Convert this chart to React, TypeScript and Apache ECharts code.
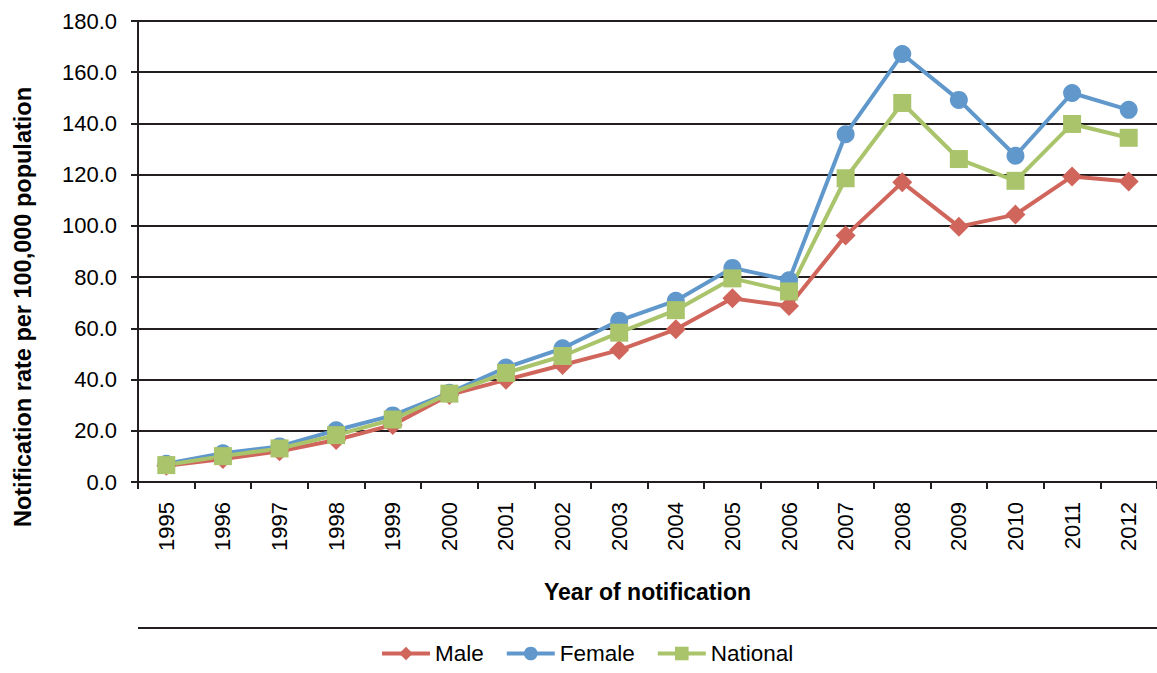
import React, { useEffect, useRef } from "react";
import * as echarts from "echarts";

const years = ["1995","1996","1997","1998","1999","2000","2001","2002","2003","2004","2005","2006","2007","2008","2009","2010","2011","2012"];
const male = [6.3, 9.0, 12.0, 16.4, 22.3, 34.0, 39.9, 45.7, 51.5, 59.6, 71.7, 68.7, 96.2, 117.0, 99.7, 104.4, 119.3, 117.3];
const female = [7.1, 11.2, 13.9, 20.2, 26.0, 34.8, 44.7, 52.2, 63.0, 70.8, 83.6, 78.8, 135.8, 167.1, 149.2, 127.4, 151.9, 145.3];
const national = [6.6, 10.1, 13.1, 18.3, 24.4, 34.5, 42.6, 49.2, 58.3, 67.1, 79.5, 74.4, 118.6, 148.0, 126.1, 117.6, 139.8, 134.4];

const yMin = 0;
const yMax = 180;
const yStep = 20;

const FONT = "'Liberation Sans', Arial, sans-serif";
const DARK = "#231f20";

export default function App() {
  const ref = useRef<HTMLDivElement>(null);
  useEffect(() => {
    if (!ref.current) return;
    const chart = echarts.init(ref.current, undefined, { renderer: "svg" });
    const mk = (name: string, data: number[], color: string, symbol: string, size: number) => ({
      name,
      type: "line",
      data,
      symbol,
      symbolSize: size,
      color,
      lineStyle: { width: 4, color },
      itemStyle: { color },
    });
    chart.setOption({
      animation: false,
      textStyle: { fontFamily: FONT },
      grid: { left: 138, top: 21, right: -5, bottom: 673 - 482, containLabel: false },
      legend: {
        left: 380,
        top: 642,
        padding: 0,
        itemWidth: 48,
        itemHeight: 17,
        itemGap: 21,
        lineStyle: { width: 4 },
        textStyle: { fontSize: 22.5, color: "#000", fontFamily: FONT },
        data: ["Male", "Female", "National"],
      },
      xAxis: {
        type: "category",
        data: years,
        boundaryGap: true,
        name: "Year of notification",
        nameLocation: "middle",
        nameGap: 98,
        nameTextStyle: { fontSize: 23, fontWeight: "bold", color: "#000", fontFamily: FONT },
        axisLine: { lineStyle: { color: DARK, width: 2 } },
        axisTick: { show: true, length: 7, lineStyle: { color: DARK, width: 2 } },
        axisLabel: { rotate: 90, fontSize: 22, color: "#000", margin: 20, fontFamily: FONT },
      },
      yAxis: {
        type: "value",
        min: yMin,
        max: yMax,
        interval: yStep,
        axisLine: { show: true, lineStyle: { color: DARK, width: 2 } },
        axisTick: { show: true, length: 7, lineStyle: { color: DARK, width: 2 } },
        axisLabel: {
          fontSize: 22,
          color: "#000",
          margin: 21,
          fontFamily: FONT,
          formatter: (v: number) => v.toFixed(1),
        },
        splitLine: { show: true, lineStyle: { color: DARK, width: 2 } },
      },
      graphic: [
        {
          type: "line",
          shape: { x1: 138, y1: 628, x2: 1157, y2: 628 },
          style: { stroke: DARK, lineWidth: 2 },
        },
        {
          type: "text",
          x: 23,
          y: 307,
          rotation: Math.PI / 2,
          style: {
            text: "Notification rate per 100,000 population",
            fontSize: 23.5,
            fontWeight: "bold",
            fontFamily: FONT,
            fill: "#000",
            align: "center",
            verticalAlign: "middle",
          },
        },
      ],
      series: [
        mk("Male", male, "#d0655c", "diamond", 20),
        mk("Female", female, "#6098cc", "circle", 18),
        mk("National", national, "#a9c46b", "rect", 18),
      ],
    });
    return () => chart.dispose();
  }, []);
  return (
    <div
      ref={ref}
      style={{ position: "fixed", left: 0, top: 0, width: 1157, height: 673, background: "#fff" }}
    />
  );
}
